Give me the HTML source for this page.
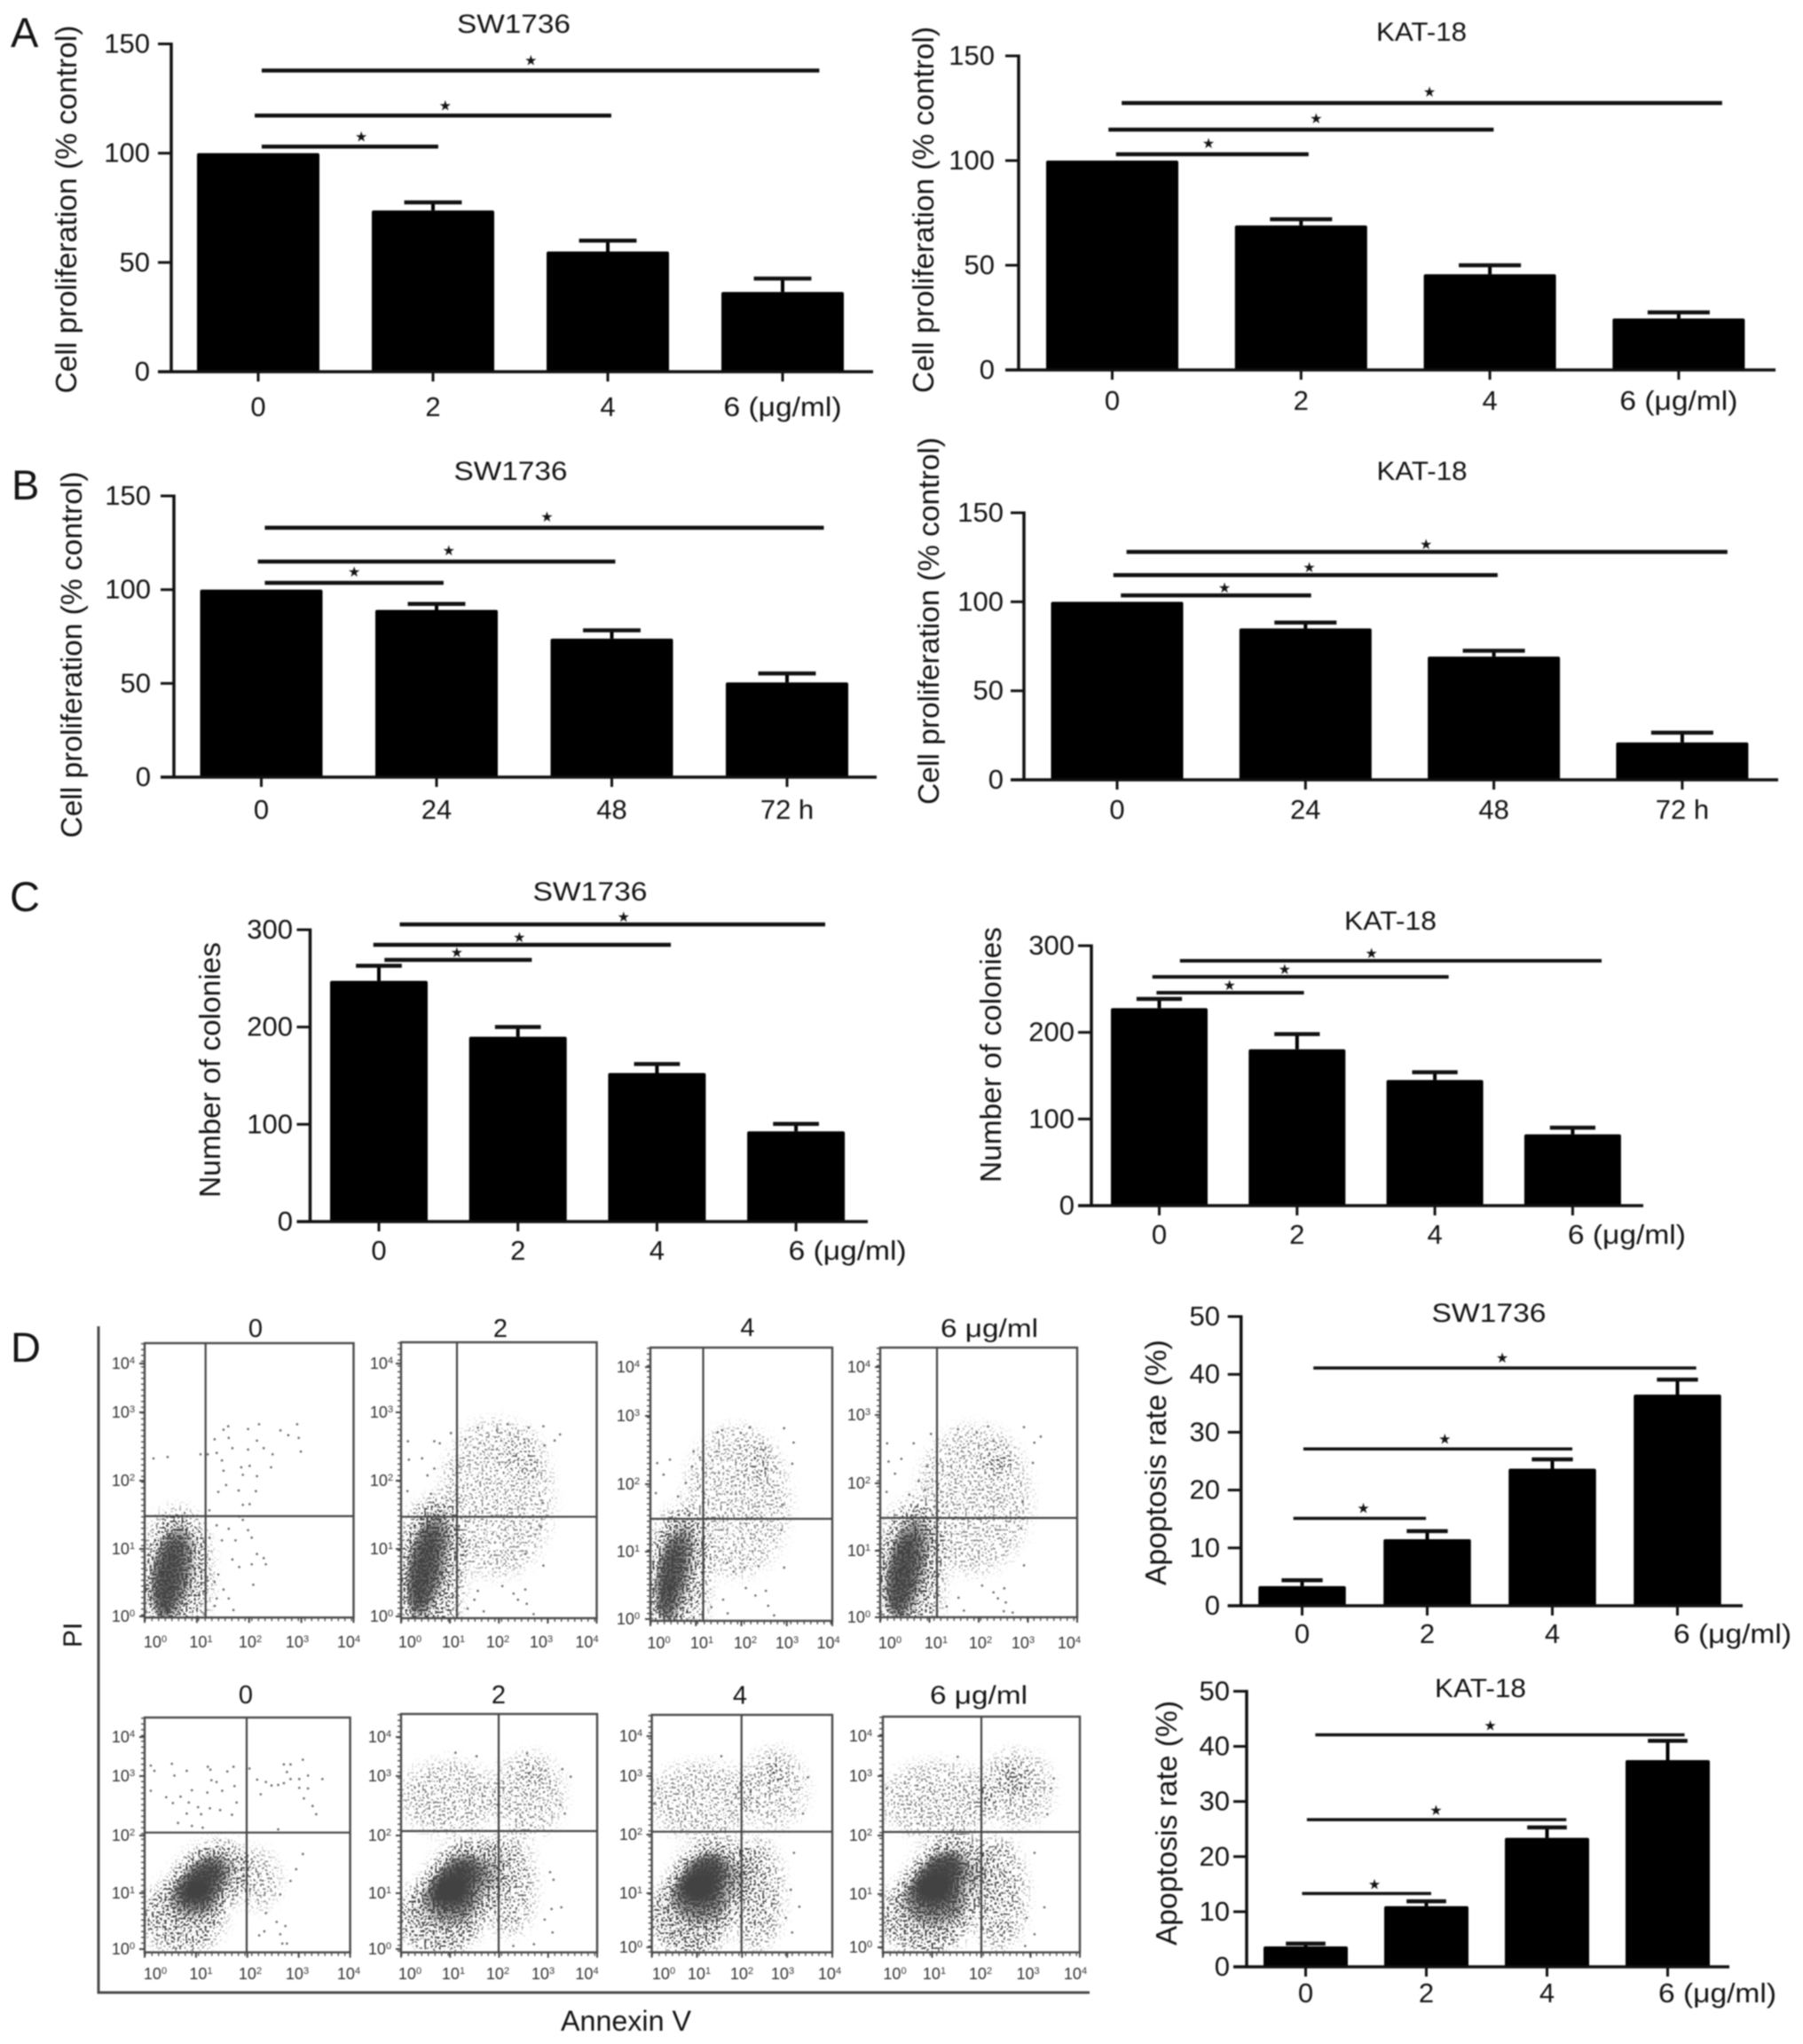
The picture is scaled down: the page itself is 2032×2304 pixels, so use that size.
<!DOCTYPE html>
<html lang="en">
<head>
<meta charset="utf-8">
<title>Cell proliferation, colony formation and apoptosis charts</title>
<style>
html,body{margin:0;padding:0;background:#fff;}
svg{display:block;filter:blur(0.7px);}
text{font-family:"Liberation Sans",Arial,sans-serif;fill:#141414;}
</style>
</head>
<body>
<svg id="root" xmlns="http://www.w3.org/2000/svg" width="2032" height="2304" viewBox="0 0 2032 2304">
<defs>
<filter id="speckle" x="-20%" y="-20%" width="140%" height="140%" color-interpolation-filters="sRGB">
<feGaussianBlur in="SourceAlpha" stdDeviation="8" result="d"/>
<feTurbulence type="fractalNoise" baseFrequency="0.42" numOctaves="1" seed="11" result="t"/>
<feColorMatrix in="t" type="matrix" values="0 0 0 0 0 0 0 0 0 0 0 0 0 0 0 4 0 0 0 -1.5" result="n"/>
<feComposite in="d" in2="n" operator="arithmetic" k1="0" k2="3" k3="3" k4="-3" result="dots"/>
<feComponentTransfer in="d" result="core"><feFuncA type="linear" slope="3" intercept="-1.6"/></feComponentTransfer>
<feMerge><feMergeNode in="dots"/><feMergeNode in="core"/></feMerge>
</filter>
</defs>
<rect x="0" y="0" width="2032" height="2304" fill="#fff"/>
<text x="12" y="53" font-size="47">A</text>
<text x="13" y="563" font-size="47">B</text>
<text x="11" y="1027" font-size="47">C</text>
<text x="12" y="1535" font-size="47">D</text>
<path d="M111 1495V2246H1228" fill="none" stroke="#4a4a4a" stroke-width="3"/>
<text transform="translate(92,1843) rotate(-90)" text-anchor="middle" font-size="30">PI</text>
<text x="632" y="2289" font-size="32" textLength="147" lengthAdjust="spacingAndGlyphs">Annexin V</text>
</svg>
<script>
/* ---------- bar chart data ---------- */
const doseCategories = ['0', '2', '4', '6 (μg/ml)'];
const timeCategories = ['0', '24', '48', '72 h'];
const proliferationTicks = [0, 50, 100, 150];
const colonyTicks = [0, 100, 200, 300];
const apoptosisTicks = [0, 10, 20, 30, 40, 50];

const aSwValues = [100, 73.8, 55, 36.5];
const aSwErrorTops = [100, 77.5, 60, 42.6];
const aSwSigLevels = [137.8, 117.2, 103];
const aSwSigFrom = [0.02, -0.02, 0.02];
const aSwSigTo = [3.21, 2.02, 1.03];
const aSwStarAt = [1.56, 1.07, 0.59];

const aKatValues = [100, 69, 45.7, 24.6];
const aKatErrorTops = [100, 72, 50, 27.5];
const aKatSigLevels = [127.5, 114.8, 103];
const aKatSigFrom = [0.05, -0.02, 0.02];
const aKatSigTo = [3.23, 2.02, 1.04];
const aKatStarAt = [1.68, 1.08, 0.51];

const bSwValues = [100, 89.2, 73.9, 50.5];
const bSwErrorTops = [100, 92.4, 78.3, 55.3];
const bSwSigLevels = [133, 115, 103.6];
const bSwSigFrom = [0.02, -0.02, 0.02];
const bSwSigTo = [3.21, 2.02, 1.04];
const bSwStarAt = [1.63, 1.07, 0.53];

const bKatValues = [100, 85, 69.2, 21];
const bKatErrorTops = [100, 88.3, 72.5, 26.5];
const bKatSigLevels = [128, 115, 103.6];
const bKatSigFrom = [0.05, -0.02, 0.02];
const bKatSigTo = [3.24, 2.02, 1.03];
const bKatStarAt = [1.64, 1.02, 0.57];

const cSwValues = [247.4, 190, 152.7, 92.8];
const cSwErrorTops = [263, 200, 162, 100.4];
const cSwSigLevels = [305.5, 284.5, 269];
const cSwSigFrom = [0.15, -0.04, 0.04];
const cSwSigTo = [3.21, 2.1, 1.1];
const cSwStarAt = [1.76, 1.01, 0.56];

const cKatValues = [228, 180.5, 145, 82.3];
const cKatErrorTops = [238.6, 198, 154, 90];
const cKatSigLevels = [282.6, 264, 245.7];
const cKatSigFrom = [0.15, -0.05, -0.02];
const cKatSigTo = [3.21, 2.1, 1.05];
const cKatStarAt = [1.54, 0.91, 0.51];

const dSwValues = [3.4, 11.5, 23.7, 36.5];
const dSwErrorTops = [4.4, 12.9, 25.3, 39.1];
const dSwSigLevels = [41.1, 27.1, 15.1];
const dSwSigFrom = [0.09, 0.01, -0.07];
const dSwSigTo = [3.15, 2.16, 0.99];
const dSwStarAt = [1.6, 1.14, 0.49];

const dKatValues = [3.7, 11, 23.4, 37.5];
const dKatErrorTops = [4.2, 11.9, 25.3, 41];
const dKatSigLevels = [42.1, 26.7, 13.3];
const dKatSigFrom = [0.08, 0.01, -0.03];
const dKatSigTo = [3.14, 2.16, 1.04];
const dKatStarAt = [1.53, 1.08, 0.57];

/* ---------- flow cytometry data (log10 decades) ---------- */
/* density regions: centre x, centre y, radius x, radius y, tilt, density */
const u0Regions = [[0.62,0.64,0.66,0.95,0,0.38],[0.55,0.68,0.46,0.8,-12,0.34],[0.45,0.6,0.33,0.66,-12,0.55]];
const u2Regions = [[0.62,0.7,0.66,1.05,0,0.38],[0.55,0.78,0.46,0.88,-12,0.34],[0.45,0.72,0.34,0.72,-12,0.55],[1.95,1.75,1.15,1.15,0,0.22],[2.5,2.4,0.45,0.35,0,0.1]];
const u4Regions = [[0.62,0.64,0.66,1.0,0,0.38],[0.52,0.7,0.44,0.82,-12,0.34],[0.42,0.62,0.32,0.68,-12,0.55],[1.9,1.75,1.15,1.1,0,0.22],[2.4,2.35,0.34,0.28,0,0.14]];
const u6Regions = [[0.62,0.66,0.66,1.05,0,0.38],[0.55,0.72,0.46,0.86,-12,0.34],[0.44,0.65,0.34,0.7,-12,0.55],[1.9,1.75,1.15,1.1,0,0.22],[2.4,2.35,0.34,0.28,0,0.14]];
const l0Regions = [[0.75,0.62,0.8,0.62,0,0.4],[1.2,1.2,0.95,0.55,45,0.36],[1.2,1.25,0.68,0.42,45,0.32],[1.12,1.22,0.55,0.3,45,0.62],[2.2,1.25,0.42,0.5,0,0.26]];
const l2Regions = [[0.8,0.62,0.85,0.64,0,0.46],[1.3,1.2,1.05,0.62,45,0.38],[1.2,1.25,0.7,0.45,45,0.32],[1.12,1.22,0.58,0.32,45,0.62],[2.2,1.15,0.55,0.85,0,0.3],[0.95,2.65,1.0,0.62,0,0.24],[2.6,2.7,0.72,0.7,0,0.24],[2.65,3.0,0.3,0.25,0,0.1]];
const l4Regions = [[0.85,0.62,0.9,0.66,0,0.46],[1.3,1.2,1.05,0.65,45,0.4],[1.2,1.25,0.7,0.45,45,0.32],[1.15,1.28,0.6,0.34,45,0.62],[2.35,1.0,0.55,0.95,0,0.33],[1.1,2.6,1.15,0.65,0,0.23],[2.7,2.8,0.72,0.68,0,0.23],[2.75,3.02,0.2,0.22,0,0.3]];
const l6Regions = [[0.85,0.62,0.9,0.66,0,0.46],[1.3,1.2,1.05,0.65,45,0.4],[1.2,1.25,0.7,0.45,45,0.32],[1.15,1.3,0.6,0.34,45,0.62],[2.35,1.0,0.55,0.95,0,0.33],[1.1,2.6,1.15,0.65,0,0.24],[2.7,2.8,0.75,0.65,0,0.24],[2.65,2.95,0.24,0.22,0,0.34]];

/* individually readable events: [x decade, y decade] */
const u0Events = [[.17,2.33],[.44,2.35],[1.07,2.39],[1.21,2.39],[1.34,2.61],[1.51,2.75],[1.6,2.8],[1.61,2.63],[1.38,2.41],[1.48,2.3],[1.68,2.48],[1.98,2.76],[2.19,2.83],[1.98,2.46],[2.15,2.59],[2.28,2.48],[2.45,2.39],[2.6,2.74],[2.92,2.83],[2.75,2.67],[2.95,2.63],[2.99,2.43],[1.85,2.2],[2.01,2.22],[2.42,2.2],[1.51,2.15],[1.88,2.09],[2.15,2.07],[1.56,1.94],[1.41,1.84],[1.8,1.86],[2.13,1.85],[1.88,1.65],[2.01,1.66],[1.24,1.57],[1.24,1.17],[1.48,1.13],[1.74,1.13],[2.05,1.17],[2.15,.93],[2.28,.87],[2.05,.78],[2.32,.78],[1.81,.74],[1.68,.85],[1.41,.63],[1.34,.52],[1.51,.41],[2.08,.48],[1.61,.28],[1.38,.28],[1.34,.17],[1.7,.11],[1.88,1.43],[1.98,1.28],[1.61,1.3],[1.38,1.35],[1.81,1.48]];
const u2Events = [[.14,2.59],[.79,2.56],[.68,2.59],[1.02,2.71],[.16,2.32],[.43,2.34],[.68,2.19],[.54,2.09],[.13,1.86],[.61,1.82],[1.57,2.79],[2.18,2.84],[2.61,2.79],[2.91,2.81],[3.25,2.69],[3.14,2.6],[2.93,2.53],[1.32,2.62],[1.96,2.75],[2.89,1.69],[2.86,1.33],[2.91,.77],[2.54,.94],[2.07,.47],[2.3,.36],[2.54,.42],[2.39,.27],[2.57,.21],[2.71,.06],[1.69,.1],[1.5,.27],[1.36,.14],[1.57,.4]];
const u4Events = [[.43,2.36],[.15,2.31],[.95,2.48],[.29,2.14],[.78,2.02],[.12,1.87],[.61,1.82],[.92,2.26],[1.09,2.39],[1.58,2.79],[1.48,2.76],[1.99,2.75],[2.19,2.83],[2.94,2.82],[3.15,2.61],[3.12,2.3],[2.9,1.7],[2.88,1.33],[2.94,.78],[2.07,.78],[2.38,.8],[2.1,.48],[2.31,.37],[2.54,.44],[2.59,.22],[2.72,.08],[1.7,.11],[1.6,.31],[1.34,.2],[1.83,.72],[1.69,.85]];
const u6Events = [[.14,2.58],[.68,2.58],[1.03,2.72],[.17,2.31],[.43,2.35],[.95,2.24],[.3,2.13],[.78,2.02],[.13,1.86],[.59,1.82],[.91,1.89],[1.58,2.79],[1.96,2.74],[2.19,2.83],[2.92,2.82],[3.26,2.68],[3.13,2.59],[3.1,2.29],[2.89,1.71],[2.86,1.32],[2.92,.77],[2.07,.47],[2.3,.37],[2.52,.43],[2.39,.28],[2.55,.22],[2.51,.09],[2.69,.07],[1.7,.1],[1.59,.29],[1.35,.16]];
const l0Events = [[.12,3.19],[.19,3.1],[.53,3.22],[.82,3.1],[.58,3.02],[1.23,3.17],[1.28,3.12],[1.73,3.17],[1.61,3.09],[2.04,3.14],[.12,2.76],[.42,2.65],[.55,2.55],[.7,2.66],[.86,2.56],[.92,2.77],[1.22,2.73],[1.51,2.76],[1.75,2.84],[1.3,2.94],[1.4,2.91],[1.79,2.56],[1.04,2.48],[1.27,2.46],[1.47,2.43],[.82,2.37],[1.1,2.36],[1.7,2.35],[.65,2.21],[.92,2.16],[1.13,2.13],[2.19,2.95],[2.36,2.91],[2.47,2.85],[2.6,2.86],[2.71,2.89],[2.84,2.96],[3.01,2.96],[3.18,3.02],[3.46,2.96],[3.08,3.29],[2.84,3.21],[2.71,3.21],[2.77,3.08],[3.01,2.81],[3.18,2.8],[3.1,2.63],[3.27,2.5],[3.34,2.36],[2.26,2.7],[2.6,2.1],[3.08,1.68],[2.95,1.42],[2.84,1.22],[2.64,.99],[2.36,.67],[2.57,.52],[2.33,.36],[2.74,.45],[2.64,.31],[2.68,.15],[2.77,.15],[2.23,.29]];
const l2Events = [[1.11,3.41],[1.54,3.35],[2.57,3.4],[3.46,3.0],[3.29,3.13],[3.34,2.37],[3.25,2.52],[3.27,.77],[3.07,.74],[2.93,.56],[3.09,.34],[3.04,1.37],[3.11,1.24],[2.29,.11],[2.71,.14]];
const l4Events = [[1.54,3.35],[3.46,2.99],[3.35,2.37],[3.27,.78],[3.11,.34],[2.97,.59],[3.08,1.07],[3.15,1.7],[.15,2.8],[.05,2.54]];
const l6Events = [[1.52,3.34],[3.47,2.97],[3.41,2.8],[3.34,2.36],[3.28,.77],[3.08,.31],[2.92,.59],[3.08,1.7],[.08,2.8],[2.89,.11]];

const flowExponents = ['0', '1', '2', '3', '4'];

/* ---------- layout ---------- */
const barCharts = [
 {id:'a-sw1736',title:'SW1736',titleX:579,titleY:37,titleW:128,yTitle:'Cell proliferation (% control)',yTitleX:86,yTitleY:236,yTitleW:415,axisX:193,y0:419,yTop:49.5,max:150,c0:291,step:197,barW:138,xEnd:984,yLabelRight:169,xLabelY:469,lastShift:0,starGap:13,sigW:4.5,categories:doseCategories,ticks:proliferationTicks,values:aSwValues,errs:aSwErrorTops,levels:aSwSigLevels,from:aSwSigFrom,to:aSwSigTo,stars:aSwStarAt},
 {id:'a-kat18',title:'KAT-18',titleX:1602,titleY:46,titleW:102,yTitle:'Cell proliferation (% control)',yTitleX:1052,yTitleY:236.5,yTitleW:413,axisX:1148,y0:417,yTop:63,max:150,c0:1253.5,step:212.8,barW:149,xEnd:2001,yLabelRight:1121,xLabelY:462,lastShift:0,starGap:14,sigW:4.5,categories:doseCategories,ticks:proliferationTicks,values:aKatValues,errs:aKatErrorTops,levels:aKatSigLevels,from:aKatSigFrom,to:aKatSigTo,stars:aKatStarAt},
 {id:'b-sw1736',title:'SW1736',titleX:575.5,titleY:541,titleW:128,yTitle:'Cell proliferation (% control)',yTitleX:92,yTitleY:738,yTitleW:413,axisX:196,y0:876,yTop:559,max:150,c0:294.5,step:197.5,barW:138,xEnd:988,yLabelRight:170,xLabelY:923,lastShift:0,starGap:14,sigW:4.5,categories:timeCategories,ticks:proliferationTicks,values:bSwValues,errs:bSwErrorTops,levels:bSwSigLevels,from:bSwSigFrom,to:bSwSigTo,stars:bSwStarAt},
 {id:'b-kat18',title:'KAT-18',titleX:1602.5,titleY:541,titleW:102,yTitle:'Cell proliferation (% control)',yTitleX:1058,yTitleY:700,yTitleW:414,axisX:1154,y0:879,yTop:578,max:150,c0:1259,step:212.3,barW:149,xEnd:2004,yLabelRight:1131,xLabelY:923,lastShift:0,starGap:10,sigW:4.5,categories:timeCategories,ticks:proliferationTicks,values:bKatValues,errs:bKatErrorTops,levels:bKatSigLevels,from:bKatSigFrom,to:bKatSigTo,stars:bKatStarAt},
 {id:'c-sw1736',title:'SW1736',titleX:665,titleY:1015,titleW:129,yTitle:'Number of colonies',yTitleX:248,yTitleY:1206,yTitleW:288,axisX:349.5,y0:1377,yTop:1048,max:300,c0:427,step:156.7,barW:110,xEnd:978,yLabelRight:330,xLabelY:1420,lastShift:58,starGap:10,sigW:4.5,categories:doseCategories,ticks:colonyTicks,values:cSwValues,errs:cSwErrorTops,levels:cSwSigLevels,from:cSwSigFrom,to:cSwSigTo,stars:cSwStarAt},
 {id:'c-kat18',title:'KAT-18',titleX:1567,titleY:1048,titleW:104,yTitle:'Number of colonies',yTitleX:1128,yTitleY:1189,yTitleW:288,axisX:1230,y0:1359,yTop:1066,max:300,c0:1306.5,step:155.3,barW:109,xEnd:1852,yLabelRight:1211,xLabelY:1402,lastShift:61,starGap:10,sigW:4,categories:doseCategories,ticks:colonyTicks,values:cKatValues,errs:cKatErrorTops,levels:cKatSigLevels,from:cKatSigFrom,to:cKatSigTo,stars:cKatStarAt},
 {id:'d-sw1736',title:'SW1736',titleX:1678,titleY:1490,titleW:129,yTitle:'Apoptosis rate (%)',yTitleX:1314,yTitleY:1648.6,yTitleW:277,axisX:1398.7,y0:1810,yTop:1484,max:50,c0:1467.5,step:141,barW:98.5,xEnd:1964,yLabelRight:1375,xLabelY:1852,lastShift:62,starGap:13,sigW:3.5,categories:doseCategories,ticks:apoptosisTicks,values:dSwValues,errs:dSwErrorTops,levels:dSwSigLevels,from:dSwSigFrom,to:dSwSigTo,stars:dSwStarAt},
 {id:'d-kat18',title:'KAT-18',titleX:1668.5,titleY:1913,titleW:103,yTitle:'Apoptosis rate (%)',yTitleX:1326,yTitleY:2055,yTitleW:276,axisX:1405,y0:2217,yTop:1906.4,max:50,c0:1471.5,step:136,barW:95,xEnd:1949,yLabelRight:1386,xLabelY:2257,lastShift:56,starGap:12,sigW:3.5,categories:doseCategories,ticks:apoptosisTicks,values:dKatValues,errs:dKatErrorTops,levels:dKatSigLevels,from:dKatSigFrom,to:dKatSigTo,stars:dKatStarAt}
];

const flowPanels = [
 {id:'sw1736-0',title:'0',titleX:288,titleY:1507,l:163,r:398.5,t:1514,b:1823.3,vx:231.7,hy:1709,unitY:77,labelX:139,xl:[175,226.5,282,335,393],yl:[1537,1592,1669,1746,1822],xy:1857,regions:u0Regions,events:u0Events},
 {id:'sw1736-2',title:'2',titleX:564,titleY:1507,l:452,r:672.5,t:1513,b:1824,vx:515,hy:1709.7,unitY:77,labelX:430,xl:[462,511,561,610,661.5],yl:[1537,1592,1669,1746,1822],xy:1857,regions:u2Regions,events:u2Events},
 {id:'sw1736-4',title:'4',titleX:842.5,titleY:1506,l:733,r:938,t:1519,b:1827,vx:792.5,hy:1712,unitY:77,labelX:708,xl:[742.5,791,840,887,933.6],yl:[1541,1596,1673,1749,1825],xy:1858,regions:u4Regions,events:u4Events},
 {id:'sw1736-6',title:'6 μg/ml',titleW:110,titleX:1115,titleY:1507,l:992,r:1214,t:1519,b:1823,vx:1056,hy:1711,unitY:76,labelX:968,xl:[1003,1055,1105,1153,1205],yl:[1541,1595,1672,1748,1823],xy:1858,regions:u6Regions,events:u6Events},
 {id:'kat18-0',title:'0',titleX:277,titleY:1920,l:163,r:394.6,t:1936,b:2200.7,vx:278,hy:2065.7,unitY:66,labelX:139,xl:[175,226.5,282,335,393],yl:[1958,2002,2069,2134,2197],xy:2231,regions:l0Regions,events:l0Events},
 {id:'kat18-2',title:'2',titleX:562,titleY:1920,l:452,r:673,t:1932,b:2200.7,vx:562,hy:2064,unitY:66,labelX:428,xl:[462,511,561,612,661.5],yl:[1958,2002,2069,2134,2197],xy:2231,regions:l2Regions,events:l2Events},
 {id:'kat18-4',title:'4',titleX:834,titleY:1920.7,l:734.6,r:938,t:1933,b:2200.7,vx:835.7,hy:2064.7,unitY:66,labelX:711,xl:[748,788,836,882,935],yl:[1957,2002,2068,2134,2195],xy:2231,regions:l4Regions,events:l4Events},
 {id:'kat18-6',title:'6 μg/ml',titleW:110,titleX:1103,titleY:1920.7,l:995,r:1217,t:1935,b:2200.7,vx:1106,hy:2065,unitY:66,labelX:970,xl:[1008.5,1053,1105,1158.6,1212],yl:[1957,2002,2069,2135,2195],xy:2231,regions:l6Regions,events:l6Events}
];

/* ---------- drawing ---------- */
const NS = 'http://www.w3.org/2000/svg';
const root = document.getElementById('root');

function mk(tag, attrs, name, parent) {
  const el = document.createElementNS(NS, tag);
  for (const k in attrs) el.setAttribute(k, attrs[k]);
  
  
  parent.appendChild(el);
  return el;
}
function line(x1, y1, x2, y2, color, w, name, parent) {
  return mk('line', {x1: x1, y1: y1, x2: x2, y2: y2, stroke: color, 'stroke-width': w}, name, parent);
}
function label(x, y, str, size, anchor, width, name, parent) {
  const attrs = {x: x, y: y, 'font-size': size, 'text-anchor': anchor};
  if (width) { attrs.textLength = width; attrs.lengthAdjust = 'spacingAndGlyphs'; }
  const el = mk('text', attrs, name, parent);
  el.textContent = str;
  return el;
}

function drawBarChart(c) {
  const g = mk('g', {}, 'bar-chart-' + c.id, root);
  const yScale = v => c.y0 - (v / c.max) * (c.y0 - c.yTop);
  const xScale = i => c.c0 + i * c.step;
  const capHalf = c.barW * 0.235;

  c.values.forEach((v, i) => {
    const cx = xScale(i);
    const top = yScale(c.errs[i]);
    if (c.errs[i] > v) {
      line(cx, yScale(v), cx, top, '#000', 4, 'error-stem-' + i, g);
      line(cx - capHalf, top, cx + capHalf, top, '#111', 4.5, 'error-cap-' + i, g);
    }
    mk('rect', {x: cx - c.barW / 2, y: yScale(v), width: c.barW, height: c.y0 - yScale(v), rx: 2, fill: '#000'}, 'bar-' + c.categories[i].split(' ')[0], g);
  });

  line(c.axisX, c.yTop - 1.5, c.axisX, c.y0 + 1.5, '#111', 3.5, 'y-axis', g);
  line(c.axisX - 15, c.y0, c.xEnd, c.y0, '#111', 3.5, 'x-axis', g);

  c.ticks.forEach(t => {
    line(c.axisX - 15, yScale(t), c.axisX, yScale(t), '#111', 3, 'y-tick-' + t, g);
    label(c.yLabelRight, yScale(t) + 10, String(t), 31, 'end', null, 'y-tick-label-' + t, g);
  });
  c.categories.forEach((cat, i) => {
    const cx = xScale(i);
    line(cx, c.y0, cx, c.y0 + 11, '#111', 3, 'x-tick-' + i, g);
    const isLong = cat.length > 5;
    label(cx + (i === 3 ? c.lastShift : 0), c.xLabelY, cat, 31, 'middle', isLong ? 133 : null, 'x-tick-label-' + i, g);
  });

  c.levels.forEach((lv, i) => {
    const y = yScale(lv);
    line(xScale(c.from[i]), y, xScale(c.to[i]), y, '#111', c.sigW, 'significance-line-' + i, g);
    const star = label(xScale(c.stars[i]), y - c.starGap + 7, '★', 16, 'middle', null, 'significance-star-' + i, g);
    star.setAttribute('style', 'font-family:"DejaVu Sans",sans-serif');
  });

  label(c.titleX, c.titleY, c.title, 30, 'middle', c.titleW, 'chart-title', g);
  const yt = label(0, 0, c.yTitle, 33, 'middle', c.yTitleW, 'y-axis-title', g);
  yt.setAttribute('transform', 'translate(' + c.yTitleX + ',' + c.yTitleY + ') rotate(-90)');
  yt.setAttribute('fill', '#333');
}

function powerLabel(x, y, exp, name, parent) {
  const t = mk('text', {x: x, y: y, 'font-size': 18, 'text-anchor': 'middle'}, name, parent);
  t.setAttribute('style', 'fill:#333');
  t.appendChild(document.createTextNode('10'));
  const s = mk('tspan', {dy: -6, 'font-size': 11}, 'exponent', t);
  s.textContent = exp;
}

function drawFlowPanel(p) {
  const g = mk('g', {}, 'flow-plot-' + p.id, root);
  const unitX = (p.r - p.l) / 4;
  const xScale = d => p.l + d * unitX;
  const yScale = d => p.b - d * p.unitY;

  const clip = mk('clipPath', {id: 'clip-' + p.id}, 'plot-clip', g);
  mk('rect', {x: p.l, y: p.t, width: p.r - p.l, height: p.b - p.t}, 'plot-clip-area', clip);
  const plot = mk('g', {'clip-path': 'url(#clip-' + p.id + ')'}, 'plot-area', g);
  const cloud = mk('g', {filter: 'url(#speckle)', opacity: 0.74}, 'event-density', plot);
  mk('rect', {x: p.l, y: p.t, width: p.r - p.l, height: p.b - p.t, fill: '#000', 'fill-opacity': 0}, 'density-extent', cloud);
  p.regions.forEach((r, i) => {
    const cx = xScale(r[0]), cy = yScale(r[1]);
    mk('ellipse', {cx: cx, cy: cy, rx: r[2] * unitX, ry: r[3] * p.unitY, fill: '#000', 'fill-opacity': r[5], transform: 'rotate(' + (-r[4]) + ' ' + cx + ' ' + cy + ')'}, 'density-region-' + i, cloud);
  });
  const pts = mk('g', {fill: '#666'}, 'events', plot);
  p.events.forEach(e => {
    mk('circle', {cx: xScale(e[0]), cy: yScale(e[1]), r: 1.3}, 'event-point', pts);
  });

  mk('rect', {x: p.l, y: p.t, width: p.r - p.l, height: p.b - p.t, fill: 'none', stroke: '#4a4a4a', 'stroke-width': 2.4}, 'plot-frame', g);
  line(p.vx, p.t, p.vx, p.b, '#444', 2.2, 'quadrant-vertical', g);
  line(p.l, p.hy, p.r, p.hy, '#444', 2.2, 'quadrant-horizontal', g);

  mk('line', {x1: p.l - 2.5, y1: p.t, x2: p.l - 2.5, y2: p.b, stroke: '#555', 'stroke-width': 3, 'stroke-dasharray': '1.5 5'}, 'y-minor-ticks', g);
  mk('line', {x1: p.l, y1: p.b + 2.5, x2: p.r, y2: p.b + 2.5, stroke: '#555', 'stroke-width': 3, 'stroke-dasharray': '1.5 6'}, 'x-minor-ticks', g);

  flowExponents.forEach((ex, i) => {
    powerLabel(p.xl[i], p.xy, ex, 'x-tick-label-' + ex, g);
    powerLabel(p.labelX, p.yl[i] + 6, flowExponents[4 - i], 'y-tick-label-' + flowExponents[4 - i], g);
    const tx = p.l + i * unitX;
    line(tx, p.b, tx, p.b + 6, '#444', 2, 'x-tick-' + ex, g);
    line(p.l - 6, p.yl[i], p.l, p.yl[i], '#444', 2, 'y-tick-' + flowExponents[4 - i], g);
  });

  label(p.titleX, p.titleY, p.title, 29, 'middle', p.titleW || null, 'plot-title', g);
}

barCharts.forEach(drawBarChart);
flowPanels.forEach(drawFlowPanel);
</script>
</body>
</html>
